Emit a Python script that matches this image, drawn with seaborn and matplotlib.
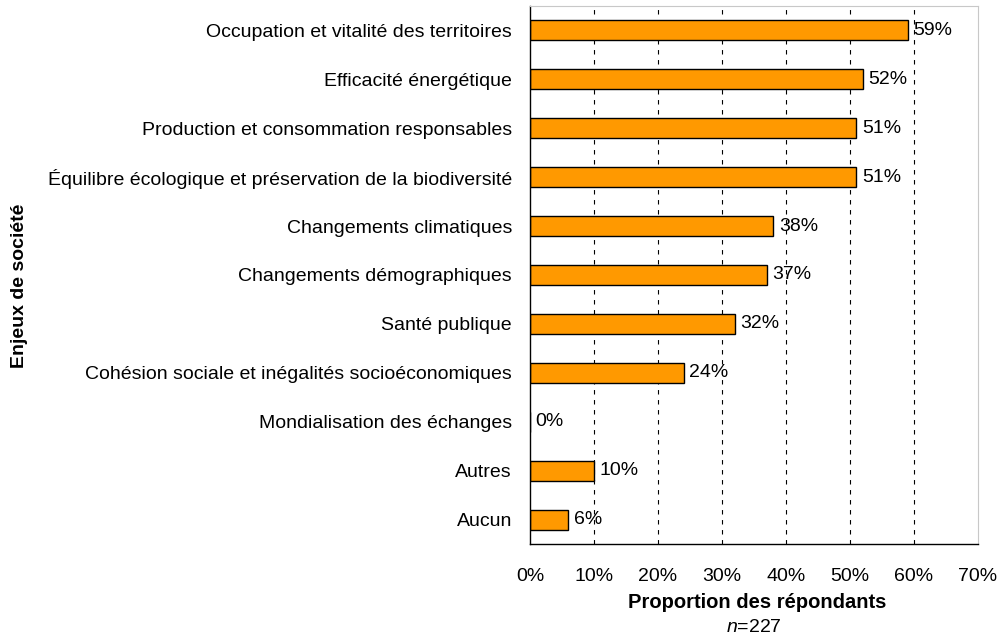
import numpy as np
import pandas as pd
import seaborn as sns
import matplotlib.pyplot as plt

categories = [
    "Occupation et vitalité des territoires",
    "Efficacité énergétique",
    "Production et consommation responsables",
    "Équilibre écologique et préservation de la biodiversité",
    "Changements climatiques",
    "Changements démographiques",
    "Santé publique",
    "Cohésion sociale et inégalités socioéconomiques",
    "Mondialisation des échanges",
    "Autres",
    "Aucun",
]
values = [59, 52, 51, 51, 38, 37, 32, 24, 0, 10, 6]

data = pd.DataFrame({"Enjeu": categories, "Proportion": values})

sns.set_style("white")
plt.rcParams["font.family"] = ["Liberation Sans", "DejaVu Sans"]
plt.rcParams["text.color"] = "black"
plt.rcParams["xtick.color"] = "black"
plt.rcParams["ytick.color"] = "black"
plt.rcParams["mathtext.fontset"] = "custom"
plt.rcParams["mathtext.it"] = "Liberation Sans:italic"
plt.rcParams["mathtext.rm"] = "Liberation Sans"

fig = plt.figure(figsize=(10.03, 6.41), dpi=100)
# axes box: x 530..978 px, y 6..544 px
ax = fig.add_axes([530 / 1003, 1 - 544 / 641, 448 / 1003, 538 / 641])

sns.barplot(data=data, x="Proportion", y="Enjeu", color="#FF9900", saturation=1,
            edgecolor="black", linewidth=1, width=0.41, ax=ax)

ax.set_xlim(0, 70)
ax.set_ylim(10.5, -0.5)
ax.set_xticks(range(0, 71, 10))
ax.set_xticklabels([f"{t}%" for t in range(0, 71, 10)], fontsize=14)
ax.tick_params(axis="y", length=0, labelsize=14, pad=13)
ax.set_yticks(np.arange(-0.5, 11, 1), minor=True)
ax.tick_params(axis="y", which="minor", length=5, width=1, direction="out")
ax.tick_params(axis="x", length=5, width=1, direction="out", pad=12)

for x in range(10, 70, 10):
    ax.axvline(x, color="black", linestyle=(0, (4, 5)), linewidth=0.8, zorder=0)

for sp in ["top", "right"]:
    ax.spines[sp].set_color("#c8c8c8")
for sp in ["left", "bottom"]:
    ax.spines[sp].set_color("black")
    ax.spines[sp].set_linewidth(1)

for i, v in enumerate(values):
    ax.annotate(f"{v}%", xy=(v, i), xytext=(4, 0), textcoords="offset points",
                va="center", ha="left", fontsize=14)

ax.set_xlabel("")
ax.set_ylabel("")
fig.text(20 / 1003, 1 - 286 / 641, "Enjeux de société", rotation=90, fontsize=14,
         fontweight="bold", ha="center", va="center")
fig.text(757 / 1003, 1 - 602 / 641, "Proportion des répondants", fontsize=14.5,
         fontweight="bold", ha="center", va="center")
fig.text(754 / 1003, 1 - 628 / 641, r"$n$=227", fontsize=14, ha="center", va="center")

plt.savefig("out.png", dpi=100)
